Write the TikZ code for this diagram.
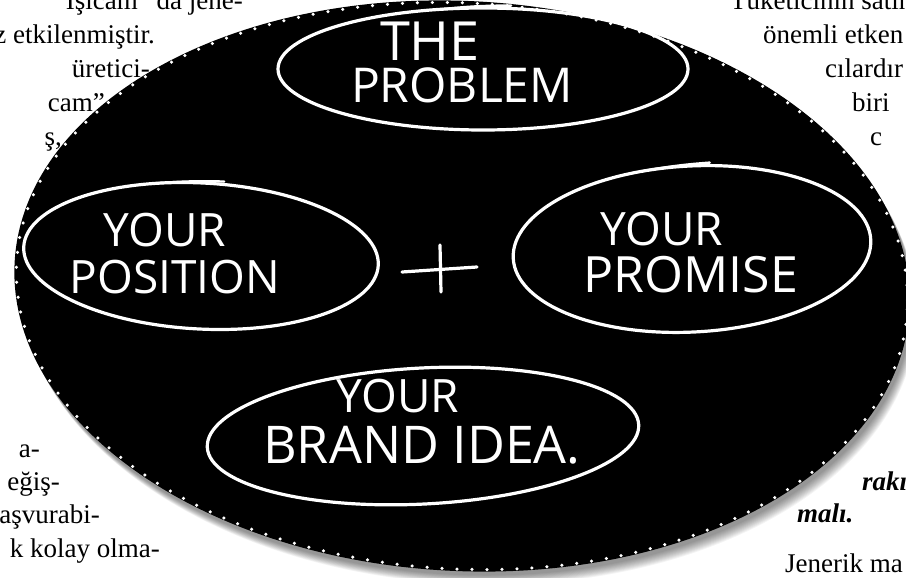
\documentclass[tikz,border=0pt]{standalone}
\usepackage{fontspec}
\setmainfont{Liberation Serif}
\newfontfamily\handfont{Open Sans}
\usetikzlibrary{shapes.geometric,calc}

\begin{document}
\begin{tikzpicture}
 [x=1pt,y=-1pt,
  page/.style={font=\fontsize{27}{30}\selectfont,inner sep=0},
  hand/.style={white,font=\handfont\fontsize{46}{46}\selectfont,inner sep=0},
  bubble/.style={ellipse,draw=white,line width=3.2,inner sep=0,outer sep=0},
  stroke/.style={white,line width=3.2,line cap=round}]
  \useasboundingbox (0,0) rectangle (906,578);
  \clip (0,0) rectangle (906,578);
  % column text running round the picture
  \foreach \x/\y/\t in {243/10/{Işıcam” da jene-},155/44/{z etkilenmiştir.},150/78/{üretici-},105/112/{cam”},62/146/{ş,},40/457/{a-},60/490/{eğiş-},100/523/{aşvurabi-},160/557/{k kolay olma-}}
    \node[page,anchor=base east] (left-\y) at (\x,\y) {\t};
  \foreach \x/\y/\t in {730/10/{Tüketicinin satın},763/44/{önemli etken},825/78/{cılardır},852/112/{biri},870/146/{c},785/572/{Jenerik ma}}
    \node[page,anchor=base west] (right-\y) at (\x,\y) {\t};
  \node[page,anchor=base west,font=\fontsize{27}{30}\selectfont\bfseries\itshape] (raki) at (862,490) {rakı};
  \node[page,anchor=base west,font=\fontsize{27}{30}\selectfont\bfseries\itshape] (mali) at (797,522) {malı.};

  % board with soft shadow and dotted rim
  \foreach \i in {1,...,12}
    \fill[black,opacity=.045,rotate around={-3:(462,286)}] (464+.5*\i,289+.8*\i) ellipse [x radius=448,y radius=285];
  \fill[black,rotate around={-3:(462,286)}] (462,286) ellipse [x radius=448,y radius=285];
  \draw[white,line width=3.5,line cap=round,dash pattern=on 0pt off 15pt,rotate around={-3:(462,286)}] (462,286) ellipse [x radius=446,y radius=283];

  \node[bubble,minimum width=410,minimum height=122] (problem) at (483,69) {};
  \node[bubble,minimum width=355,minimum height=146,rotate=-3] (position) at (201,256) {};
  \node[bubble,minimum width=358,minimum height=166,rotate=3] (promise) at (692,249) {};
  \node[bubble,minimum width=432,minimum height=136,rotate=3] (brand) at (423,436) {};
  % pen overshoot where each loop closes
  \draw[stroke,line width=2.4] (problem.125) to[bend left=3] ([yshift=3]problem.65);
  \draw[stroke,line width=2.4] (position.125) to[bend left=3] ([yshift=3]position.75);
  \draw[stroke,line width=2.4] (promise.120) to[bend left=3] ([yshift=3]promise.75);

  \node[hand,font=\handfont\fontsize{54}{54}\selectfont] (the) at (430,41) {THE};
  \node[hand,font=\handfont\fontsize{48}{48}\selectfont] (problem-text) at (462,85) {PROBLEM};
  \node[hand] (your-position) at (165,230) {YOUR};
  \node[hand] (position-text) at (175,277) {POSITION};
  \node[hand] (your-promise) at (662,229) {YOUR};
  \node[hand,font=\handfont\fontsize{50}{50}\selectfont] (promise-text) at (691,275) {PROMISE};
  \node[hand] (your-brand) at (398,396) {YOUR};
  \node[hand,font=\handfont\fontsize{52}{52}\selectfont] (brand-text) at (422,445) {BRAND IDEA.};

  \coordinate (plus) at (440,268);
  \draw[stroke] ($(plus)+(-38,4)$) -- ($(plus)+(37,-1)$);
  \draw[stroke] ($(plus)+(0,-23)$) -- ($(plus)+(1,24)$);
\end{tikzpicture}
\end{document}
